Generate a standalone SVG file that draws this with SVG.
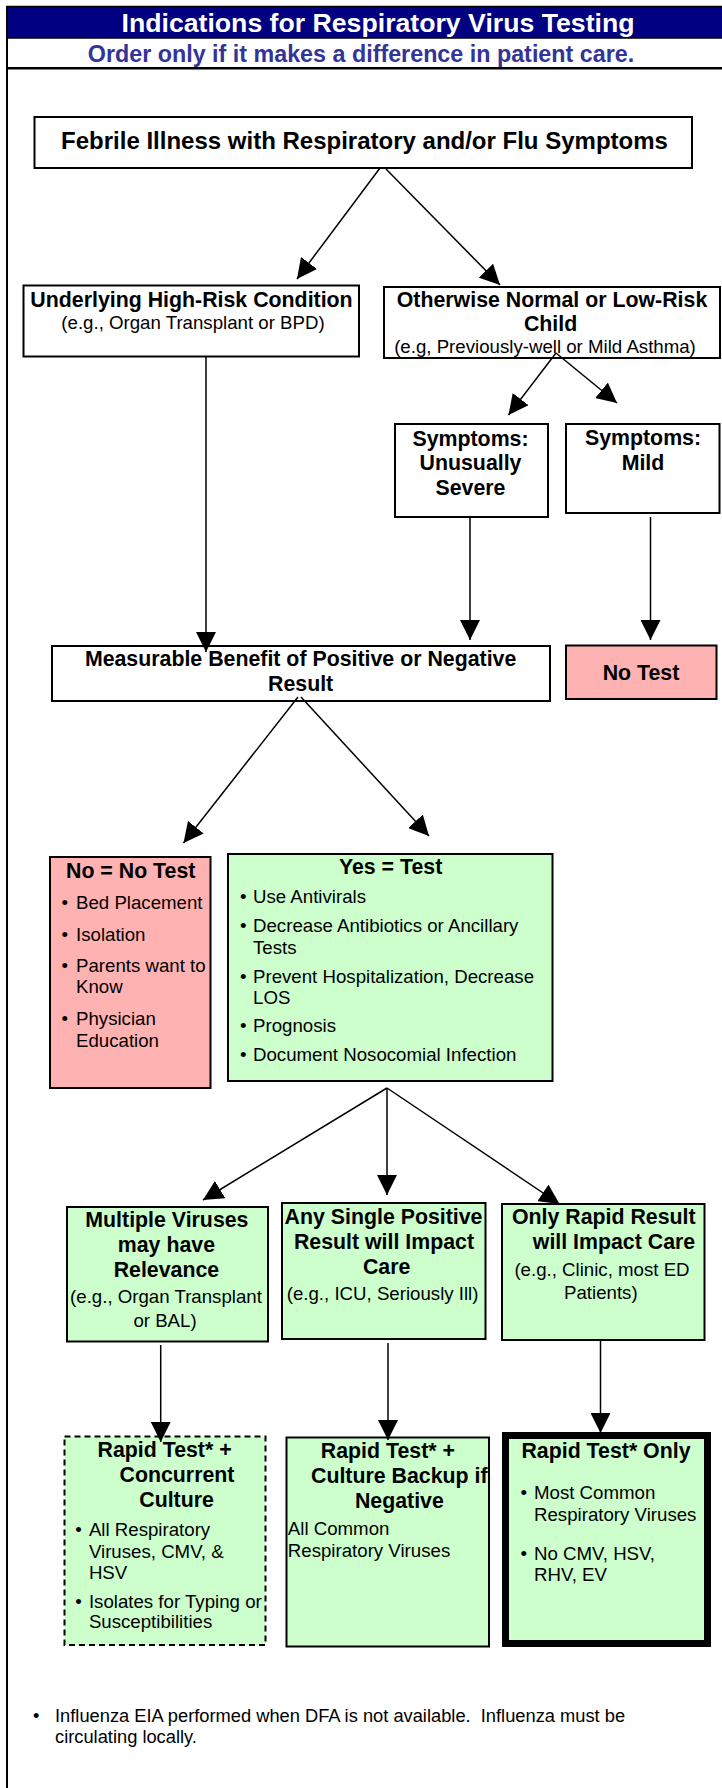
<svg xmlns="http://www.w3.org/2000/svg" width="722" height="1788" viewBox="0 0 722 1788">
<defs>
<style>
text { font-family: "Liberation Sans", Arial, sans-serif; fill: #000; }
.b { font-weight: bold; font-size: 21.33px; }
.r { font-size: 18.67px; }
.m { text-anchor: middle; }
.box { fill: #fff; stroke: #000; stroke-width: 2; }
.pink { fill: #FFB2B2; }
.green { fill: #CCFFCC; }
.conn line { stroke: #000; stroke-width: 1.5; marker-end: url(#arr); }
</style>
<marker id="arr" viewBox="0 0 20 20" refX="20" refY="10" markerWidth="20" markerHeight="20" markerUnits="userSpaceOnUse" orient="auto">
<path d="M0,0 L20,10 L0,20 Z" fill="#000"/>
</marker>
</defs>
<rect width="722" height="1788" fill="#fff"/>

<g id="frame">
<line x1="7" y1="6" x2="7" y2="1788" stroke="#000" stroke-width="2"/>
<rect x="7" y="6.5" width="716" height="31.5" fill="#000080" stroke="#000" stroke-width="1.5"/>
<line x1="7" y1="68.3" x2="722" y2="68.3" stroke="#000" stroke-width="2.5"/>
<text x="378" y="32" class="m" style="font-weight:bold;font-size:26.67px;fill:#fff">Indications for Respiratory Virus Testing</text>
<text x="361" y="62" class="m" style="font-weight:bold;font-size:23.3px;fill:#333399">Order only if it makes a difference in patient care.</text>
</g>

<g id="n-febrile">
<rect class="box" x="34.5" y="117" width="657.5" height="51"/>
<text x="364.5" y="149" class="m" style="font-weight:bold;font-size:24px">Febrile Illness with Respiratory and/or Flu Symptoms</text>
</g>

<g id="n-underlying">
<rect class="box" x="23.5" y="285.5" width="335.5" height="71"/>
<text x="191.5" y="306.7" class="b m">Underlying High-Risk Condition</text>
<text x="193" y="329" class="r m">(e.g., Organ Transplant or BPD)</text>
</g>

<g id="n-otherwise">
<rect class="box" x="384" y="287" width="336" height="71"/>
<text x="552" y="307" class="b m">Otherwise Normal or Low-Risk</text>
<text x="550.6" y="331" class="b m">Child</text>
<text x="545" y="352.5" class="r m">(e.g, Previously-well or Mild Asthma)</text>
</g>

<g id="n-severe">
<rect class="box" x="395" y="424" width="153" height="93"/>
<text x="470.5" y="445.7" class="b m">Symptoms:</text>
<text x="470.5" y="470" class="b m">Unusually</text>
<text x="470.5" y="495" class="b m">Severe</text>
</g>

<g id="n-mild">
<rect class="box" x="566" y="424" width="153.5" height="89"/>
<text x="643" y="445" class="b m">Symptoms:</text>
<text x="643" y="469.5" class="b m">Mild</text>
</g>

<g id="n-measurable">
<rect class="box" x="52" y="646" width="498" height="55"/>
<text x="300.6" y="666" class="b m">Measurable Benefit of Positive or Negative</text>
<text x="300.6" y="691" class="b m">Result</text>
</g>

<g id="n-notest">
<rect class="box pink" x="566" y="645.5" width="150.5" height="53.5"/>
<text x="641" y="680" class="b m">No Test</text>
</g>

<g id="n-no">
<rect class="box pink" x="50" y="857" width="160.5" height="231"/>
<text x="130.7" y="878" class="b m">No = No Test</text>
<text x="61.4" y="909" class="r">•</text>
<text x="76" y="909" class="r">Bed Placement</text>
<text x="61.4" y="940.7" class="r">•</text>
<text x="76" y="940.7" class="r">Isolation</text>
<text x="61.4" y="971.7" class="r">•</text>
<text x="76" y="971.7" class="r">Parents want to</text>
<text x="76" y="993" class="r">Know</text>
<text x="61.4" y="1025" class="r">•</text>
<text x="76" y="1025" class="r">Physician</text>
<text x="76" y="1046.7" class="r">Education</text>
</g>

<g id="n-yes">
<rect class="box green" x="228" y="854" width="324.5" height="227"/>
<text x="390.6" y="874" class="b m">Yes = Test</text>
<text x="240" y="903.3" class="r">•</text>
<text x="253" y="903.3" class="r">Use Antivirals</text>
<text x="240" y="932.3" class="r">•</text>
<text x="253" y="932.3" class="r">Decrease Antibiotics or Ancillary</text>
<text x="253" y="954" class="r">Tests</text>
<text x="240" y="982.7" class="r">•</text>
<text x="253" y="982.7" class="r">Prevent Hospitalization, Decrease</text>
<text x="253" y="1004" class="r">LOS</text>
<text x="240" y="1031.7" class="r">•</text>
<text x="253" y="1031.7" class="r">Prognosis</text>
<text x="240" y="1061" class="r">•</text>
<text x="253" y="1061" class="r">Document Nosocomial Infection</text>
</g>

<g id="n-multiple">
<rect class="box green" x="67" y="1207" width="201" height="134.5"/>
<text x="166.9" y="1226.7" class="b m">Multiple Viruses</text>
<text x="166.4" y="1251.7" class="b m">may have</text>
<text x="166.4" y="1276.7" class="b m">Relevance</text>
<text x="166" y="1303" class="r m">(e.g., Organ Transplant</text>
<text x="165" y="1326.7" class="r m">or BAL)</text>
</g>

<g id="n-single">
<rect class="box green" x="282" y="1203" width="203.5" height="136"/>
<text x="383.5" y="1224" class="b m">Any Single Positive</text>
<text x="384" y="1249.3" class="b m">Result will Impact</text>
<text x="386.7" y="1274" class="b m">Care</text>
<text x="382.6" y="1300" class="r m">(e.g., ICU, Seriously Ill)</text>
</g>

<g id="n-rapidresult">
<rect class="box green" x="502" y="1204" width="202.5" height="136"/>
<text x="603.8" y="1224" class="b m">Only Rapid Result</text>
<text x="614" y="1249" class="b m">will Impact Care</text>
<text x="602" y="1276" class="r m">(e.g., Clinic, most ED</text>
<text x="600.8" y="1299" class="r m">Patients)</text>
</g>

<g id="n-concurrent">
<rect class="box green" x="64.5" y="1436.5" width="201" height="208.5" style="stroke-dasharray:6,4"/>
<text x="164.6" y="1456.7" class="b m">Rapid Test* +</text>
<text x="177" y="1481.7" class="b m">Concurrent</text>
<text x="176.6" y="1506.7" class="b m">Culture</text>
<text x="75.2" y="1536" class="r">•</text>
<text x="88.9" y="1536" class="r">All Respiratory</text>
<text x="88.9" y="1558.3" class="r">Viruses, CMV, &amp;</text>
<text x="88.9" y="1579.3" class="r">HSV</text>
<text x="75.2" y="1607.7" class="r">•</text>
<text x="88.9" y="1607.7" class="r">Isolates for Typing or</text>
<text x="88.9" y="1628.3" class="r">Susceptibilities</text>
</g>

<g id="n-backup">
<rect class="box green" x="286.5" y="1437.5" width="202.5" height="209"/>
<text x="387.9" y="1458.3" class="b m">Rapid Test* +</text>
<text x="311" y="1483.3" class="b">Culture Backup if</text>
<text x="399.4" y="1508.3" class="b m">Negative</text>
<text x="287.8" y="1535" class="r">All Common</text>
<text x="287.8" y="1557.3" class="r">Respiratory Viruses</text>
</g>

<g id="n-rapidonly">
<rect x="505.5" y="1435.5" width="202" height="208" fill="#CCFFCC" stroke="#000" stroke-width="7"/>
<text x="606" y="1458.3" class="b m">Rapid Test* Only</text>
<text x="520.4" y="1499.3" class="r">•</text>
<text x="534" y="1499.3" class="r">Most Common</text>
<text x="534" y="1520.7" class="r">Respiratory Viruses</text>
<text x="520.4" y="1560" class="r">•</text>
<text x="534" y="1560" class="r">No CMV, HSV,</text>
<text x="534" y="1580.7" class="r">RHV, EV</text>
</g>

<g id="footnote">
<text x="33" y="1722" style="font-size:18.3px">•</text>
<text x="55" y="1722" style="font-size:18.3px;white-space:pre">Influenza EIA performed when DFA is not available.  Influenza must be</text>
<text x="55" y="1743" style="font-size:18.3px">circulating locally.</text>
</g>

<g id="connectors" class="conn">
<line x1="380" y1="168" x2="297" y2="279"/>
<line x1="386" y1="169" x2="500" y2="285"/>
<line x1="556" y1="353" x2="508.5" y2="415"/>
<line x1="556" y1="353" x2="617" y2="403"/>
<line x1="206" y1="356" x2="206" y2="652"/>
<line x1="470" y1="517" x2="470" y2="640"/>
<line x1="650.5" y1="517" x2="650.5" y2="640"/>
<line x1="298" y1="697" x2="183.5" y2="843"/>
<line x1="301" y1="697" x2="429" y2="836"/>
<line x1="387" y1="1088" x2="203" y2="1200"/>
<line x1="387" y1="1088" x2="387" y2="1195"/>
<line x1="387" y1="1088" x2="559.5" y2="1204"/>
<line x1="160.7" y1="1345" x2="160.7" y2="1442"/>
<line x1="388" y1="1343" x2="388" y2="1440"/>
<line x1="600.5" y1="1340" x2="600.5" y2="1433"/>
</g>
</svg>
